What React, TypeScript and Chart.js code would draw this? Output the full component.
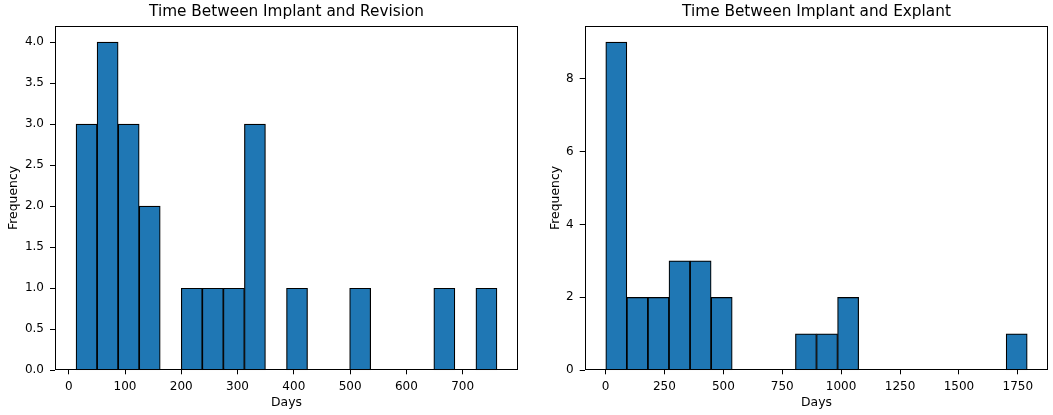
import { useEffect, useRef } from "react";

import { Chart, registerables } from "chart.js";

Chart.register(...registerables);

// histogram counts per bin (20 bins), and the data range the bins span
const revisionCounts = [3, 4, 3, 2, 0, 1, 1, 1, 3, 0, 1, 0, 0, 1, 0, 0, 0, 1, 0, 1];
const revisionRange = [13, 761];
const revisionXTicks = [0, 100, 200, 300, 400, 500, 600, 700];
const revisionYTicks = [0, 0.5, 1, 1.5, 2, 2.5, 3, 3.5, 4];

const explantCounts = [9, 2, 2, 3, 3, 2, 0, 0, 0, 1, 1, 2, 0, 0, 0, 0, 0, 0, 0, 1];
const explantRange = [1, 1790];
const explantXTicks = [0, 250, 500, 750, 1000, 1250, 1500, 1750];
const explantYTicks = [0, 2, 4, 6, 8];

const barColor = "#1f77b4";
const fontFamily = "'DejaVu Sans', sans-serif";

const frame = {
  id: "frame",
  afterDraw(chart: any) {
    const { ctx, chartArea } = chart;
    ctx.save();
    ctx.strokeStyle = "#000";
    ctx.lineWidth = 1;
    const l = Math.round(chartArea.left) + 0.5;
    const t = Math.round(chartArea.top) + 0.5;
    const r = Math.round(chartArea.right) - 0.5;
    const b = Math.round(chartArea.bottom) - 0.5;
    ctx.strokeRect(l, t, r - l, b - t);
    ctx.restore();
  },
};

type HistProps = {
  title: string;
  counts: number[];
  range: number[];
  xTicks: number[];
  yTicks: number[];
  yDecimals: number;
  width: number;
  yAxisWidth: number;
  yTitlePad: number;
  rightPad: number;
};

function Histogram(props: HistProps) {
  const canvasRef = useRef<HTMLCanvasElement>(null);

  useEffect(() => {
    if (!canvasRef.current) return;
    const { counts, range, xTicks, yTicks } = props;
    const [lo, hi] = range;
    const binWidth = (hi - lo) / counts.length;
    const points = counts.map((c, i) => ({ x: lo + (i + 0.5) * binWidth, y: c }));
    const margin = (hi - lo) * 0.05;
    const yMax = Math.max(...counts) * 1.05;

    const tickFont = { family: fontFamily, size: 12 };
    const labelFont = { family: fontFamily, size: 12.4 };

    const chart = new Chart(canvasRef.current, {
      type: "bar",
      data: {
        datasets: [
          {
            data: points,
            backgroundColor: barColor,
            borderColor: "#000",
            borderWidth: 1.2,
            borderSkipped: false,
            barPercentage: 1,
            categoryPercentage: 1,
          },
        ],
      },
      options: {
        responsive: false,
        animation: false,
        layout: { padding: { left: 0, right: props.rightPad, top: 0, bottom: 0 } },
        plugins: {
          legend: { display: false },
          tooltip: { enabled: false },
          title: {
            display: true,
            text: props.title,
            color: "#000",
            fullSize: false,
            font: { family: fontFamily, size: 15.3, weight: "normal" },
            padding: { top: 2.4, bottom: 4.9 },
          },
        },
        scales: {
          x: {
            type: "linear",
            min: lo - margin,
            max: hi + margin,
            offset: false,
            grid: { display: true, drawOnChartArea: false, offset: false, color: "#000", tickLength: 4 },
            border: { display: false },
            afterBuildTicks: (scale: any) => {
              scale.ticks = xTicks.map((v) => ({ value: v }));
            },
            afterFit: (scale: any) => {
              scale.height = 44.7;
            },
            ticks: {
              color: "#000",
              font: tickFont,
              padding: 5.5,
              maxRotation: 0,
              autoSkip: false,
              callback: (v: any) => String(v),
            },
            title: {
              display: true,
              text: "Days",
              color: "#000",
              font: labelFont,
              padding: { top: 0, bottom: 5.2 },
            },
          },
          y: {
            type: "linear",
            min: 0,
            max: yMax,
            grid: { display: true, drawOnChartArea: false, color: "#000", tickLength: 5 },
            border: { display: false },
            afterBuildTicks: (scale: any) => {
              scale.ticks = yTicks.map((v) => ({ value: v }));
            },
            afterFit: (scale: any) => {
              scale.width = props.yAxisWidth;
            },
            ticks: {
              color: "#000",
              font: tickFont,
              padding: 6,
              autoSkip: false,
              callback: (v: any) => Number(v).toFixed(props.yDecimals),
            },
            title: {
              display: true,
              text: "Frequency",
              color: "#000",
              font: labelFont,
              padding: { top: props.yTitlePad, bottom: 0 },
            },
          },
        },
      },
      plugins: [frame],
    });

    return () => {
      chart.destroy();
    };
  }, [props]);

  return <canvas ref={canvasRef} width={props.width} height={415} style={{ display: "block" }} />;
}

export default function App() {
  return (
    <div style={{ position: "absolute", left: 0, top: 0, width: 1053, height: 415, display: "flex", background: "#fff" }}>
      <Histogram
        title="Time Between Implant and Revision"
        counts={revisionCounts}
        range={revisionRange}
        xTicks={revisionXTicks}
        yTicks={revisionYTicks}
        yDecimals={1}
        width={527}
        yAxisWidth={55}
        yTitlePad={6.5}
        rightPad={9}
      />
      <Histogram
        title="Time Between Implant and Explant"
        counts={explantCounts}
        range={explantRange}
        xTicks={explantXTicks}
        yTicks={explantYTicks}
        yDecimals={0}
        width={526}
        yAxisWidth={57.7}
        yTitlePad={21.7}
        rightPad={4.7}
      />
    </div>
  );
}
